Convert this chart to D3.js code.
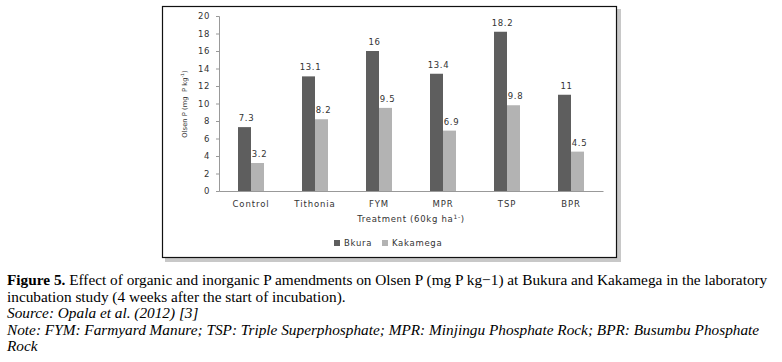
<!DOCTYPE html>
<html lang="en">
<head>
  <meta charset="UTF-8">
  <title>Olsen P</title>
  <script src="https://d3js.org/d3.v7.min.js"></script>
  <style>
    body { margin: 0; padding: 0; background: #fff; }
    #chart { width: 782px; height: 362px; }
    .axis text, .lbl, .leg, .ttl { font-family: "DejaVu Sans", Verdana, sans-serif; fill: #333; }
    .cap { font-family: "Liberation Serif", "Times New Roman", serif; fill: #000; }
  </style>
</head>
<body>
  <div id="chart"></div>
<script>
  const treatments = ['Control', 'Tithonia', 'FYM', 'MPR', 'TSP', 'BPR']
  const sites = ['Bkura', 'Kakamega']
  const bkura = [7.3, 13.1, 16, 13.4, 18.2, 11]
  const kakamega = [3.2, 8.2, 9.5, 6.9, 9.8, 4.5]
  const yTicks = [0, 2, 4, 6, 8, 10, 12, 14, 16, 18, 20]
  const colors = ['#5e5e5e', '#b3b3b3']

  const width = 782, height = 362
  const svg = d3.select('#chart').append('svg')
    .attr('width', width).attr('height', height)

  // frame with shadow
  svg.append('rect').attr('x', 165).attr('y', 9).attr('width', 456).attr('height', 253)
    .attr('fill', '#c8c8c8')
  svg.append('rect').attr('x', 163).attr('y', 7).attr('width', 454).attr('height', 251)
    .attr('fill', '#9a9a9a')
  svg.append('rect').attr('x', 162.5).attr('y', 6.5).attr('width', 454).attr('height', 251)
    .attr('fill', '#fff').attr('stroke', '#111').attr('stroke-width', 1.2)

  const x0 = d3.scaleBand().domain(treatments).range([219, 603])
  const x1 = d3.scaleBand().domain(sites).range([0, 26])
  const y = d3.scaleLinear().domain([0, 20]).range([191, 16])

  const rows = treatments.map((t, i) => ({ t, vals: [bkura[i], kakamega[i]] }))

  const g = svg.append('g')
  const groups = g.selectAll('g.grp').data(rows).join('g')
    .attr('transform', d => `translate(${x0(d.t) + x0.bandwidth() / 2 - 13},0)`)

  groups.selectAll('rect').data(d => d.vals.map((v, j) => ({ v, s: sites[j], j })))
    .join('rect')
    .attr('x', d => x1(d.s))
    .attr('y', d => y(d.v))
    .attr('width', x1.bandwidth())
    .attr('height', d => y(0) - y(d.v))
    .attr('fill', d => colors[d.j])

  groups.selectAll('text').data(d => d.vals.map((v, j) => ({ v, s: sites[j] })))
    .join('text').attr('class', 'lbl')
    .attr('x', d => x1(d.s) + x1.bandwidth() / 2 + 2)
    .attr('y', d => y(d.v) - 6)
    .attr('text-anchor', 'middle')
    .attr('font-size', 8.5).attr('letter-spacing', 0.6)
    .text(d => d.v)

  // y axis
  const yAxis = g.append('g').attr('class', 'axis')
    .attr('transform', 'translate(219,0)')
    .call(d3.axisLeft(y).tickValues(yTicks).tickSize(3).tickPadding(6))
  yAxis.select('.domain').attr('stroke', '#999')
  yAxis.selectAll('line').attr('stroke', '#999')
  yAxis.selectAll('text').attr('font-size', 8.5).attr('letter-spacing', 0.6).attr('fill', '#333')

  // x axis
  const xAxis = g.append('g').attr('class', 'axis')
    .attr('transform', `translate(0,${y(0)})`)
    .call(d3.axisBottom(x0).tickSize(0).tickPadding(10))
  xAxis.select('.domain').attr('stroke', '#999')
  xAxis.selectAll('text').attr('font-size', 8.5).attr('letter-spacing', 0.9).attr('fill', '#333')

  // axis titles
  svg.append('text').attr('class', 'ttl')
    .attr('transform', 'translate(187,104) rotate(-90)')
    .attr('text-anchor', 'middle').attr('font-size', 6.8)
    .html('Olsen P (mg&#160;&#160;P kg<tspan dy="-3" font-size="4.5">-1</tspan><tspan dy="3">)</tspan>')

  svg.append('text').attr('class', 'ttl')
    .attr('x', 411).attr('y', 222)
    .attr('text-anchor', 'middle').attr('font-size', 8.5).attr('letter-spacing', 0.7)
    .html('Treatment (60kg ha<tspan dy="-3" font-size="6">1-</tspan><tspan dy="3">)</tspan>')

  // legend
  const leg = svg.append('g').selectAll('g').data(sites).join('g')
    .attr('transform', (d, i) => `translate(${i ? 382 : 334},240)`)
  leg.append('rect').attr('width', 6).attr('height', 6).attr('fill', (d, i) => colors[i])
  leg.append('text').attr('class', 'leg')
    .attr('x', 10).attr('y', 6).attr('font-size', 8.5).attr('letter-spacing', 0.7)
    .text(d => d)

  // caption
  const cap = svg.append('g').attr('class', 'cap').attr('font-size', 15.3)
  const l1 = cap.append('text').attr('x', 7).attr('y', 285)
  l1.append('tspan').attr('font-weight', 'bold').text('Figure 5.')
  l1.append('tspan').text(' Effect of organic and inorganic P amendments on Olsen P (mg P kg\u22121) at Bukura and Kakamega in the laboratory')
  cap.append('text').attr('x', 7).attr('y', 301.5)
    .text('incubation study (4 weeks after the start of incubation).')
  cap.append('text').attr('x', 7).attr('y', 318).attr('font-style', 'italic')
    .text('Source: Opala et al. (2012) [3]')
  cap.append('text').attr('x', 7).attr('y', 334.5).attr('font-style', 'italic')
    .text('Note: FYM: Farmyard Manure; TSP: Triple Superphosphate; MPR: Minjingu Phosphate Rock; BPR: Busumbu Phosphate')
  cap.append('text').attr('x', 7).attr('y', 351).attr('font-style', 'italic')
    .text('Rock')
</script>
</body>
</html>
